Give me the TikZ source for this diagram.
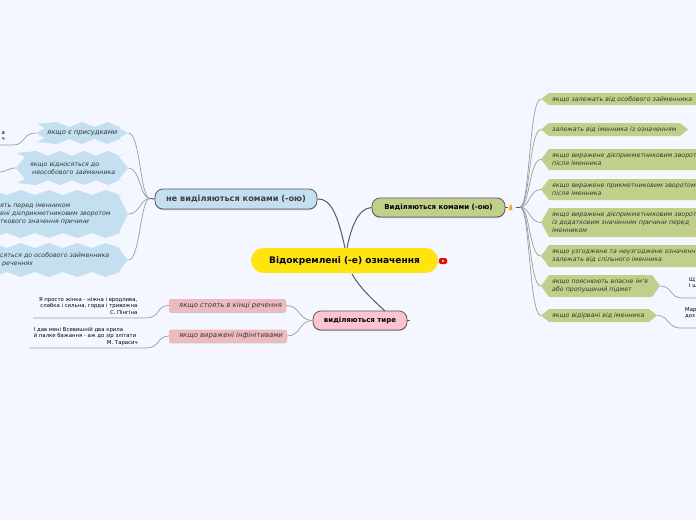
\documentclass[tikz,border=0pt]{standalone}
\usepackage{fontspec}
\setmainfont{DejaVu Sans}
\usetikzlibrary{calc,positioning,shadows}
\definecolor{pagefill}{HTML}{F4F7FF}
\definecolor{mainyellow}{HTML}{FFE510}
\definecolor{greenfill}{HTML}{C2CF8A}
\definecolor{bluefill}{HTML}{C3DFF0}
\definecolor{pinkmain}{HTML}{FCC4D0}
\definecolor{pinkfill}{HTML}{EDBAC2}
\definecolor{linegray}{HTML}{9C9C9C}
\definecolor{linedark}{HTML}{5A5A5A}
\definecolor{textdark}{HTML}{2E3A30}
\tikzset{
  mainbox/.style={draw=linedark, line width=0.8pt, rounded corners=8pt, inner sep=0pt, text=black,
    drop shadow={shadow xshift=0pt, shadow yshift=-1pt, fill=gray, opacity=0.5},
    font=\fontsize{7}{8}\selectfont\bfseries},
  childtext/.style={inner ysep=0pt, inner xsep=11pt, align=left, text=textdark,
    font=\fontsize{6.25}{8}\selectfont\itshape},
  pinkbox/.style={fill=pinkfill, rounded corners=2pt, minimum height=13pt, inner sep=0pt, text=textdark,
    font=\fontsize{6.85}{8}\selectfont\itshape,
    drop shadow={shadow xshift=0pt, shadow yshift=-0.8pt, fill=gray, opacity=0.4}},
  leaftext/.style={inner sep=0pt, text=black, font=\fontsize{5.35}{6.5}\selectfont},
  branch/.style={draw=linegray, line width=0.7pt},
  trunk/.style={draw=linedark, line width=1pt}
}
% hexagon behind a text: name, left, right, top, bottom, text
\newcommand{\greenhex}[6]{
  \fill[greenfill] (#2,{(#4+#5)/2}) -- (#2+8,#4) -- (#3-8,#4) -- (#3,{(#4+#5)/2}) -- (#3-8,#5) -- (#2+8,#5) -- cycle;
  \node[childtext, anchor=west, text width={#3-#2-22}, minimum height={#5-#4}] (#1) at (#2,{(#4+#5)/2}) {#6};
}
% jagged patch behind a text: name, left, right, top, bottom, teeth, text
\newcommand{\bluewave}[7]{
  \pgfmathsetmacro{\ymid}{(#4+#5)/2}
  \pgfmathsetmacro{\stepx}{(#3-#2-16)/#6}
  \fill[bluefill] (#2,\ymid) -- (#2+9,#4+6) -- (#2+1,#4+2)
    \foreach \k in {1,...,#6}{ -- ({#2+8+(\k-0.5)*\stepx},#4) -- ({#2+8+\k*\stepx},#4+5) }
    -- (#3-3,#4+1) -- (#3-9,#4+6) -- (#3,\ymid) -- (#3-9,#5-6) -- (#3-3,#5-1)
    \foreach \k in {#6,...,1}{ -- ({#2+8+\k*\stepx},#5-5) -- ({#2+8+(\k-0.5)*\stepx},#5) }
    -- (#2+1,#5-2) -- (#2+9,#5-6) -- cycle;
  \node[childtext, anchor=west, text width={#3-#2-22}, minimum height={#5-#4}] (#1) at (#2,\ymid) {#7};
}
\begin{document}
\begin{tikzpicture}[x=1pt,y=-1pt]
  \useasboundingbox (0,0) rectangle (696,520);
  \clip (0,0) rectangle (696,520);
  \fill[pagefill] (0,0) rectangle (696,520);

  % The four main boxes
  \node[fill=mainyellow, rounded corners=12.5pt, inner sep=0pt, minimum width=187pt, minimum height=25pt, font=\fontsize{9.05}{10}\selectfont\bfseries] (root) at (344.5,260.5) {Відокремлені (-е) означення};
  \node[mainbox, fill=greenfill, minimum width=133pt, minimum height=19pt] (commas) at (438.5,207.5) {Виділяються комами (-ою)};
  \node[mainbox, fill=bluefill, minimum width=162pt, minimum height=20pt, text=linedark!70!black, font=\fontsize{8.2}{9}\selectfont\bfseries] (nocommas) at (236,199) {не виділяються комами (-ою)};
  \node[mainbox, fill=pinkmain, minimum width=94pt, minimum height=19pt] (dash) at (360,320.5) {виділяються тире};

  % Red mark beside the root
  \node[fill=red, rounded corners=2pt, minimum width=8pt, minimum height=6pt, inner sep=0pt] (rootmark) at (443,261) {};
  \fill[white] (rootmark.center) circle (1.2pt);

  % Trunks from the root
  \draw[trunk] (345,248) .. controls (338,216) and (331,198) .. (nocommas.east);
  \draw[trunk] (347,248) .. controls (351,228) and (358,208) .. (commas.west);
  \draw[trunk] (352,274) .. controls (360,288) and (372,299) .. (385,311);

  % Green side
  \greenhex{g1}{541}{712}{93}{105}{якщо залежать від особового займенника}
  \greenhex{g2}{541}{688}{123}{136}{залежать від іменника із означенням}
  \greenhex{g3}{541}{712}{149}{170}{якщо виражене дієприкметниковим зворот\\після іменника}
  \greenhex{g4}{541}{712}{179}{200}{якщо виражене прикметниковим зворотом\\після іменника}
  \greenhex{g5}{541}{712}{208}{237}{якщо виражене дієприкметниковим зворот\\із додатковим значенням причини перед\\іменником}
  \greenhex{g6}{541}{712}{245}{267}{якщо узгоджене та неузгоджене означенн\\залежать від спільного іменника}
  \greenhex{g7}{541}{660}{275}{297}{якщо пояснюють власне ім'я\\або пропущений підмет}
  \greenhex{g8}{541}{657}{309}{322}{якщо відірвані від іменника}

  % Bell and stub after the green box
  \coordinate (ghub) at (520,207);
  \draw[trunk] (commas.east) -- ++(3,0);
  \fill[orange!70!yellow] (509,210) -- (510,204.5) -- (511.5,204.5) -- (512.5,210) -- cycle;
  \draw[trunk] (515.5,207) -- (ghub);
  \foreach \n in {g1,g2,g3,g4,g5,g6,g7,g8}
    \draw[branch] (ghub) .. controls +(10,0) and +(-12,0) .. (\n.west);

  % Leaves on the right
  \node[leaftext, anchor=west, align=left] (lr1) at (689,282.5) {Щ\\І ш};
  \node[leaftext, anchor=west, align=left] (lr2) at (685,313) {Мар\\доз};
  \coordinate (er1) at (696,298);
  \coordinate (er2) at (696,328);
  \draw[branch] (g7.east) .. controls (672,286) and (670,298) .. (682,298) -- (er1);
  \draw[branch] (g8.east) .. controls (668,315) and (668,328) .. (680,328) -- (er2);

  % Blue side
  \bluewave{b1}{36}{128}{122}{144}{3}{\mbox{\fontsize{6.8}{8}\selectfont якщо є присудками}}
  \bluewave{b2}{16}{128}{151}{185}{4}{\hspace*{3pt}якщо відносяться до\\\hspace*{5pt}неособового займенника}
  \bluewave{b3}{-30}{128}{190}{238}{5}{\hspace*{19pt}ять перед іменником\\\hspace*{19pt}ені дієприкметниковим зворотом\\\hspace*{19pt}ткового значення причини}
  \bluewave{b4}{-30}{128}{243}{277}{5}{\hspace*{19pt}сяться до особового займенника\\\hspace*{21pt}реченнях}

  \coordinate (bhub) at (150,198.5);
  \draw[trunk] (nocommas.west) -- (bhub);
  \foreach \n in {b1,b2,b3,b4}
    \draw[branch] (bhub) .. controls +(-10,0) and +(12,0) .. (\n.east);

  % Leaves on the left
  \node[leaftext, anchor=east, align=right] (ll1) at (5,136) {а\\ч};
  \coordinate (el1) at (0,145);
  \coordinate (el2) at (0,172);
  \draw[branch] (b1.west) .. controls (22,133) and (26,145) .. (13,145) -- (el1);
  \draw[branch] (b2.west) .. controls (8,168) and (6,172) .. (el2);

  % Pink side
  \node[pinkbox, minimum width=117pt] (p1) at (227.5,305.5) {\hspace*{6pt}якщо стоять в кінці речення};
  \node[pinkbox, minimum width=118pt] (p2) at (228,336) {\hspace*{6pt}якщо виражені інфінітивами};
  \draw[trunk] (dash.east) -- ++(3,0);
  \draw[branch] (dash.west) .. controls +(-14,0) and +(14,0) .. (p1.east);
  \draw[branch] (dash.west) .. controls +(-14,0) and +(14,0) .. (p2.east);

  % Verses
  \node[leaftext, anchor=north east, align=right] (v1) at (137.5,297) {Я просто жінка - ніжна і вродлива,\\слабка і сильна, горда і тривожна\\С. Пінгіна};
  \node[leaftext, anchor=north east] (v2) at (138,327) {\parbox[t]{104pt}{\raggedright І дав мені Всевишній два крила\\й палке бажання - аж до зір злітати\\\hspace*{\fill}М. Тарасич}};
  \coordinate (ev1) at (33,318);
  \coordinate (ev2) at (29,348);
  \draw[branch] (p1.west) .. controls (157,305) and (160,318) .. (146,318) -- (ev1);
  \draw[branch] (p2.west) .. controls (157,336) and (160,348) .. (146,348) -- (ev2);
\end{tikzpicture}
\end{document}
